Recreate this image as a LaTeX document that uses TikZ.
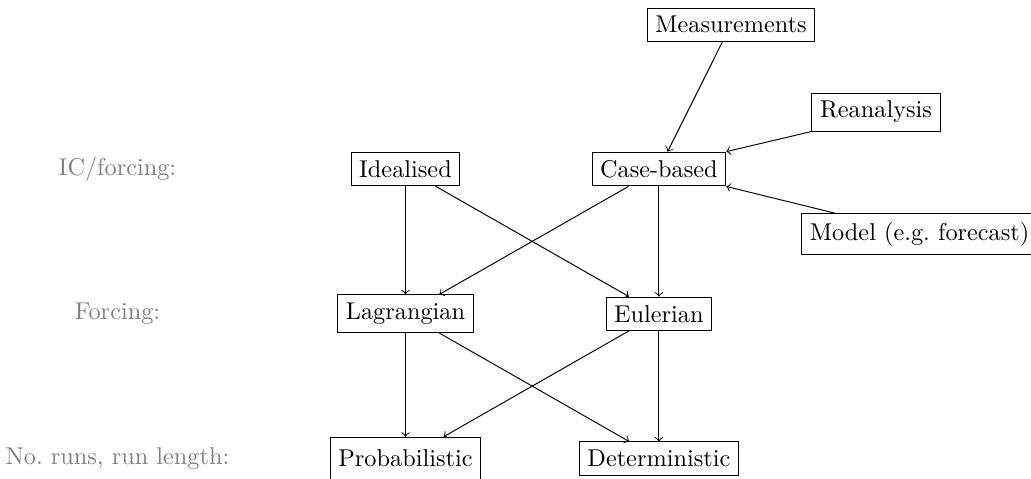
\documentclass[tikz,border=0pt]{standalone}
\begin{document}
\begin{tikzpicture}[box/.style = {draw}, lab/.style = {gray}]
        \useasboundingbox (0,0) rectangle (14.92,-6.92);

        \node[lab] at ( 1.70,-2.446)  (l1)    {IC/forcing:};
        \node[lab] at ( 1.70,-4.54 )  (l2)    {Forcing:};
        \node[lab] at ( 1.70,-6.635)  (l3)    {No.\ runs, run length:};

        \node[box] at (10.579,-0.355) (meas)  {Measurements};
        \node[box] at (12.677,-1.621) (rean)  {Reanalysis};
        \node[box, anchor=east] at (15.02,-3.386) (model) {Model (e.g.\ forecast)};
        \node[box] at ( 5.868,-2.446) (ideal) {Idealised};
        \node[box] at ( 9.535,-2.446) (case)  {Case-based};
        \node[box] at ( 5.868,-4.54 ) (lagr)  {Lagrangian};
        \node[box] at ( 9.535,-4.54 ) (euler) {Eulerian};
        \node[box, minimum height=17.5pt] at ( 5.868,-6.635) (prob) {Probabilistic};
        \node[box] at ( 9.535,-6.635) (det)   {Deterministic};

        \draw[->] (meas)            -- (case);
        \draw[->] (rean.south west) -- (case.north east);
        \draw[->] (model)           -- (case.south east);
        \draw[->] (ideal) -- (lagr);
        \draw[->] (ideal) -- (euler);
        \draw[->] (case)  -- (lagr);
        \draw[->] (case)  -- (euler);
        \draw[->] (lagr)  -- (prob);
        \draw[->] (lagr)  -- (det);
        \draw[->] (euler) -- (prob);
        \draw[->] (euler) -- (det);
      \end{tikzpicture}
\end{document}
